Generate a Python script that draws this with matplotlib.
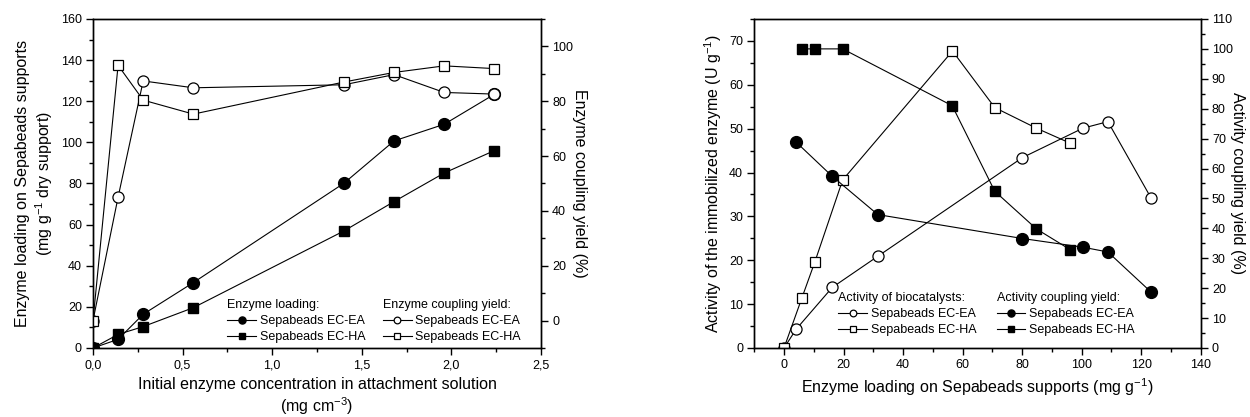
import matplotlib
matplotlib.use("Agg")
import matplotlib.pyplot as plt
from matplotlib.legend import Legend
from matplotlib.ticker import MultipleLocator, FuncFormatter

plt.rcParams['font.family'] = ['Liberation Sans', 'DejaVu Sans']
plt.rcParams['mathtext.fontset'] = 'custom'
plt.rcParams['mathtext.rm'] = 'Liberation Sans'
plt.rcParams['mathtext.it'] = 'Liberation Sans:italic'
plt.rcParams['font.size'] = 9

# left panel data
conc = [0.0, 0.14, 0.28, 0.56, 1.40, 1.68, 1.96, 2.24]
load_ea = [0.0, 4.2, 16.4, 31.8, 80.1, 100.7, 108.8, 123.4]
load_ha = [0.0, 6.6, 10.4, 19.6, 56.9, 71.2, 85.1, 96.0]
yield_ea = [0.0, 45.0, 87.4, 84.9, 86.0, 89.7, 83.2, 82.6]
yield_ha = [0.0, 93.1, 80.4, 75.3, 87.0, 90.5, 92.9, 91.9]

# right panel data
act_ea_x = [0.0, 4.1, 16.2, 31.5, 80.1, 100.4, 108.8, 123.3]
act_ea = [0.0, 4.3, 13.8, 20.9, 43.4, 50.1, 51.6, 34.2]
act_ha_x = [0.0, 6.0, 10.4, 19.7, 56.6, 70.8, 84.8, 96.1]
act_ha = [0.0, 11.4, 19.7, 38.3, 67.7, 54.8, 50.1, 46.7]
ay_ea_x = [4.1, 16.2, 31.5, 80.1, 100.4, 108.8, 123.3]
ay_ea = [68.8, 57.4, 44.6, 36.6, 33.7, 32.1, 18.7]
ay_ha_x = [6.0, 10.4, 19.7, 56.5, 70.8, 84.8, 96.1]
ay_ha = [100.0, 100.0, 100.0, 81.0, 52.4, 39.8, 32.9]

lw = 0.8
tick_fs = 9
label_fs = 11.5
leg_fs = 9

fig = plt.figure(figsize=(12.5, 4.17), dpi=100)


def style_axes(ax, ax2):
    for a in (ax, ax2):
        for s in a.spines.values():
            s.set_linewidth(1.0)
    ax.tick_params(which='both', direction='out', top=False, right=False, labelsize=tick_fs)
    ax.tick_params(which='major', length=5, width=1, pad=3)
    ax.tick_params(which='minor', length=3, width=1)
    ax2.tick_params(axis='y', which='both', direction='out', labelsize=tick_fs)
    ax2.tick_params(axis='y', which='major', length=5, width=1, pad=3)
    ax2.tick_params(axis='y', which='minor', length=3, width=1)
    ax2.tick_params(axis='x', which='both', direction='in', top=True, bottom=False,
                    labeltop=False, labelbottom=False, width=1)
    ax2.tick_params(axis='x', which='major', length=5)
    ax2.tick_params(axis='x', which='minor', length=3)


def add_legend(ax, handles, labels, title, x, y):
    leg = Legend(ax, handles, labels, title=title, alignment='left', frameon=False,
                 fontsize=leg_fs, title_fontsize=leg_fs, loc='lower left',
                 bbox_to_anchor=(x, y), borderpad=0.0, handlelength=2.3,
                 handletextpad=0.3, labelspacing=0.3, markerscale=0.6,
                 borderaxespad=0.0)
    leg._legend_box.sep = 3
    ax.add_artist(leg)
    return leg


# ---------- left panel ----------
ax = fig.add_axes([0.0744, 0.1655, 0.3584, 0.789])
ax2 = ax.twinx()
l1, = ax.plot(conc, load_ea, '-', color='k', lw=lw, marker='o', ms=8.5, mfc='k', mec='k')
l2, = ax.plot(conc, load_ha, '-', color='k', lw=lw, marker='s', ms=7, mfc='k', mec='k')
l3, = ax2.plot(conc, yield_ea, '-', color='k', lw=lw, marker='o', ms=8, mfc='white', mec='k', mew=0.9)
l4, = ax2.plot(conc, yield_ha, '-', color='k', lw=lw, marker='s', ms=7, mfc='white', mec='k', mew=0.9)

ax.set_xlim(0, 2.5)
ax.set_ylim(0, 160)
ax2.set_ylim(-10, 110)
ax.xaxis.set_major_locator(MultipleLocator(0.5))
ax.xaxis.set_minor_locator(MultipleLocator(0.25))
ax.yaxis.set_major_locator(MultipleLocator(20))
ax.yaxis.set_minor_locator(MultipleLocator(10))
ax2.set_yticks([0, 20, 40, 60, 80, 100])
ax2.yaxis.set_minor_locator(MultipleLocator(10))
ax.xaxis.set_major_formatter(FuncFormatter(lambda v, p: f"{v:.1f}".replace('.', ',')))
style_axes(ax, ax2)

ax.set_xlabel("Initial enzyme concentration in attachment solution\n(mg cm$^{-3}$)",
              fontsize=label_fs, linespacing=1.2, labelpad=4)
ax.set_ylabel("Enzyme loading on Sepabeads supports\n(mg g$^{-1}$ dry support)",
              fontsize=label_fs, linespacing=1.2, labelpad=4)
ax2.set_ylabel("Enzyme coupling yield (%)", fontsize=label_fs, rotation=270, labelpad=10)

add_legend(ax, [l1, l2], ["Sepabeads EC-EA", "Sepabeads EC-HA"],
           "Enzyme loading:", 0.300, 0.015)
add_legend(ax, [l3, l4], ["Sepabeads EC-EA", "Sepabeads EC-HA"],
           "Enzyme coupling yield:", 0.647, 0.015)

# ---------- right panel ----------
bx = fig.add_axes([0.6034, 0.1655, 0.3572, 0.789])
bx2 = bx.twinx()
m1, = bx.plot(act_ea_x, act_ea, '-', color='k', lw=lw, marker='o', ms=8, mfc='white', mec='k', mew=0.9)
m2, = bx.plot(act_ha_x, act_ha, '-', color='k', lw=lw, marker='s', ms=7, mfc='white', mec='k', mew=0.9)
m3, = bx2.plot(ay_ea_x, ay_ea, '-', color='k', lw=lw, marker='o', ms=8.5, mfc='k', mec='k')
m4, = bx2.plot(ay_ha_x, ay_ha, '-', color='k', lw=lw, marker='s', ms=7, mfc='k', mec='k')

bx.set_xlim(-10, 140)
bx.set_ylim(0, 75)
bx2.set_ylim(0, 110)
bx.set_xticks([0, 20, 40, 60, 80, 100, 120, 140])
bx.xaxis.set_minor_locator(MultipleLocator(10))
bx.set_yticks([0, 10, 20, 30, 40, 50, 60, 70])
bx.yaxis.set_minor_locator(MultipleLocator(5))
bx2.yaxis.set_major_locator(MultipleLocator(10))
bx2.yaxis.set_minor_locator(MultipleLocator(5))
style_axes(bx, bx2)

bx.set_xlabel("Enzyme loading on Sepabeads supports (mg g$^{-1}$)", fontsize=label_fs, labelpad=4)
bx.set_ylabel("Activity of the immobilized enzyme (U g$^{-1}$)", fontsize=label_fs, labelpad=4)
bx2.set_ylabel("Activity coupling yield (%)", fontsize=label_fs, rotation=270, labelpad=9)

add_legend(bx, [m1, m2], ["Sepabeads EC-EA", "Sepabeads EC-HA"],
           "Activity of biocatalysts:", 0.188, 0.036)
add_legend(bx, [m3, m4], ["Sepabeads EC-EA", "Sepabeads EC-HA"],
           "Activity coupling yield:", 0.543, 0.036)

fig.savefig("out.png", dpi=100)
